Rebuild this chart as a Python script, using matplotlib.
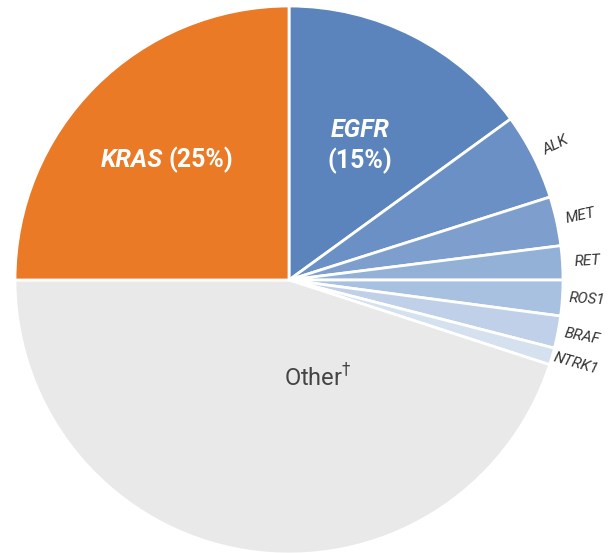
import matplotlib.pyplot as plt
import numpy as np

plt.rcParams['font.family'] = ['Roboto', 'DejaVu Sans']

# slice order: clockwise from 12 o'clock
genes = ['EGFR', 'ALK', 'MET', 'RET', 'ROS1', 'BRAF', 'NTRK1', 'Other', 'KRAS']
shares = [15, 5.1, 2.9, 2, 2.1, 1.9, 1, 45, 25]
colors = ['#5B84BD', '#6A90C5', '#7E9FCD', '#93B0D7', '#A9C1E0',
          '#BFD0E8', '#D6E1F0', '#E9E9E9', '#EA7A26']

small_labels = ['ALK', 'MET', 'RET', 'ROS1', 'BRAF', 'NTRK1']

fig = plt.figure(figsize=(6.15, 5.53), dpi=100)
ax = fig.add_axes([0, 0, 1, 1])

cx, cy, R = 289, 273, 274
wedges, _ = ax.pie(shares, colors=colors, startangle=90, counterclock=False,
                   center=(cx, cy), radius=R, frame=True,
                   wedgeprops=dict(edgecolor='white', linewidth=2))
ax.set_xlim(0, 615)
ax.set_ylim(0, 553)
ax.set_aspect('equal')
ax.axis('off')

# small outer labels, rotated along each wedge's mid angle
for w, name in zip(wedges, genes):
    if name not in small_labels:
        continue
    mid = (w.theta1 + w.theta2) / 2
    a = np.deg2rad(mid)
    x = cx + R * 1.09 * np.cos(a)
    y = cy + R * 1.09 * np.sin(a)
    ax.text(x, y, name, rotation=mid, rotation_mode='anchor',
            ha='center', va='center', fontsize=11, style='italic',
            color='#333333')

# big labels
ax.text(163, 393, 'KRAS', fontsize=18, fontweight='bold', style='italic',
        color='white', ha='right', va='center')
ax.text(169, 393, '(25%)', fontsize=18, fontweight='bold',
        color='white', ha='left', va='center')
ax.text(360, 423, 'EGFR', fontsize=18, fontweight='bold', style='italic',
        color='white', ha='center', va='center')
ax.text(360, 392, '(15%)', fontsize=18, fontweight='bold',
        color='white', ha='center', va='center')
ax.text(318, 175, r'Other$^{\dagger}$', fontsize=17, color='#444444',
        ha='center', va='center')

fig.savefig('out.png', dpi=100)
